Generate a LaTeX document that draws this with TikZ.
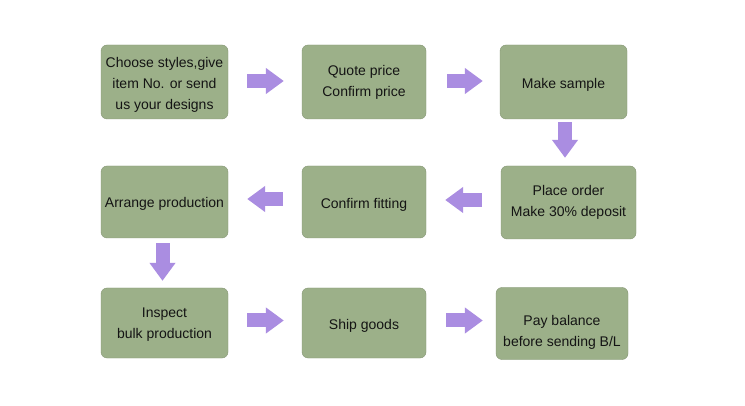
\documentclass[tikz,border=0pt]{standalone}
\usepackage{fontspec}
\setmainfont{Liberation Sans}
\usetikzlibrary{arrows.meta}
\definecolor{boxgreen}{RGB}{156,176,137}
\definecolor{arrowpurple}{RGB}{170,141,225}
\definecolor{txt}{RGB}{20,20,20}
\newcommand\dropby[1]{\rule{0pt}{#1}}
\tikzset{
  stepbox/.style={fill=boxgreen, draw=boxgreen!85!black, line width=0.4pt, rounded corners=6pt,
    inner sep=0pt, align=center, text=txt, font=\fontsize{14}{21}\selectfont},
  blockarrow/.style={draw=arrowpurple, line width=14pt,
    -{Triangle[length=18pt,width=25pt]}},
}
\begin{document}
\begin{tikzpicture}[x=1pt,y=-1pt]
\useasboundingbox[fill=white] (0,0) rectangle (745,406);
% row 1
\node[stepbox, minimum width=127pt, minimum height=74pt] (b1) at (164.5,82) {\dropby{16pt}Choose styles,give\\item No. or send\\us your designs};
\node[stepbox, minimum width=124pt, minimum height=74pt] (b2) at (364,82) {Quote price\\Confirm price};
\node[stepbox, minimum width=127pt, minimum height=74pt] (b3) at (563.5,82) {\dropby{16pt}Make sample};
% row 2
\node[stepbox, minimum width=135pt, minimum height=73pt] (b4) at (568.5,202.5) {Place order\\Make 30\% deposit};
\node[stepbox, minimum width=124pt, minimum height=72pt] (b5) at (364,202) {\dropby{16pt}Confirm fitting};
\node[stepbox, minimum width=127pt, minimum height=72pt] (b6) at (164.5,202) {\dropby{14pt}Arrange production};
% row 3
\node[stepbox, minimum width=127pt, minimum height=70pt] (b7) at (164.5,323) {\dropby{13pt}Inspect\\bulk production};
\node[stepbox, minimum width=124pt, minimum height=70pt] (b8) at (364,323) {\dropby{16pt}Ship goods};
\node[stepbox, minimum width=132pt, minimum height=72pt] (b9) at (562,323.5) {\dropby{28pt}Pay balance\\before sending B/L};
% arrows
\draw[blockarrow, shorten <=19pt, shorten >=18pt] ([yshift=1pt]b1.east) -- ([yshift=1pt]b1.east -| b2.west);
\draw[blockarrow, shorten <=21pt, shorten >=17pt] ([yshift=1pt]b2.east) -- ([yshift=1pt]b2.east -| b3.west);
\draw[blockarrow, shorten <=3pt, shorten >=8pt] ([xshift=1.5pt]b3.south) -- ([xshift=1.5pt]b3.south |- b4.north);
\draw[blockarrow, shorten <=19pt, shorten >=19pt] ([yshift=2.5pt]b4.west) -- ([yshift=2.5pt]b4.west -| b5.east);
\draw[blockarrow, shorten <=19pt, shorten >=19pt] ([yshift=3pt]b5.west) -- ([yshift=3pt]b5.west -| b6.east);
\draw[blockarrow, shorten <=5pt, shorten >=7pt] ([xshift=-2pt]b6.south) -- ([xshift=-2pt]b6.south |- b7.north);
\draw[blockarrow, shorten <=19pt, shorten >=18pt] ([yshift=2.5pt]b7.east) -- ([yshift=2.5pt]b7.east -| b8.west);
\draw[blockarrow, shorten <=20pt, shorten >=13pt] ([yshift=2.5pt]b8.east) -- ([yshift=2.5pt]b8.east -| b9.west);
\end{tikzpicture}
\end{document}
